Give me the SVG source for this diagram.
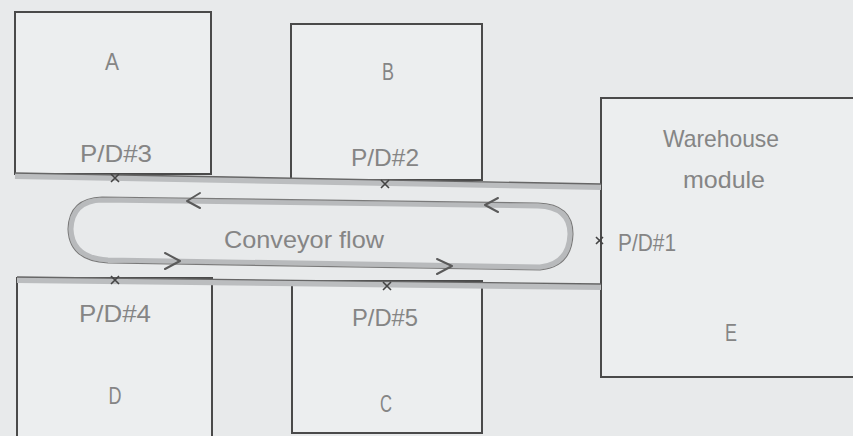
<svg xmlns="http://www.w3.org/2000/svg" width="853" height="436" viewBox="0 0 853 436">
<style>
.bg{fill:#e8eaeb}
.box{fill:#eceeef;stroke:#4a4a4a;stroke-width:2}
.lbl{font-family:"Liberation Sans",Arial,sans-serif;font-size:24px;fill:#858585;text-anchor:middle}
.wall{stroke:#bbbdbf;stroke-width:6;fill:none}
.walledge{stroke:#666;stroke-width:1.3;fill:none}
.loop{fill:none;stroke:#b8babc;stroke-width:5}
.loopedge{fill:none;stroke:#7a7a7a;stroke-width:1.1}
.arr{fill:none;stroke:#5a5a5a;stroke-width:2;stroke-linecap:round;stroke-linejoin:round}
.pd{stroke:#444;stroke-width:1.6;fill:none}
</style>
<rect class="bg" x="0" y="0" width="853" height="436"/>
<g id="A">
<rect class="box" x="15" y="12" width="196" height="162"/>
<text class="lbl" x="112" y="70" textLength="14" lengthAdjust="spacingAndGlyphs">A</text>
<text class="lbl" x="116" y="162" textLength="72" lengthAdjust="spacingAndGlyphs">P/D#3</text>
</g>
<g id="B">
<rect class="box" x="291" y="24" width="191" height="156"/>
<text class="lbl" x="388" y="80" textLength="12" lengthAdjust="spacingAndGlyphs">B</text>
<text class="lbl" x="385" y="166" textLength="68" lengthAdjust="spacingAndGlyphs">P/D#2</text>
</g>
<g id="E">
<rect class="box" x="601" y="98" width="262" height="279"/>
<text class="lbl" x="721" y="147" textLength="116" lengthAdjust="spacingAndGlyphs">Warehouse</text>
<text class="lbl" x="724" y="188" textLength="82" lengthAdjust="spacingAndGlyphs">module</text>
<text class="lbl" x="647" y="251" textLength="58" lengthAdjust="spacingAndGlyphs">P/D#1</text>
<text class="lbl" x="731" y="341" textLength="12" lengthAdjust="spacingAndGlyphs">E</text>
</g>
<g id="D">
<rect class="box" x="17" y="278" width="195" height="170"/>
<text class="lbl" x="115" y="322" textLength="72" lengthAdjust="spacingAndGlyphs">P/D#4</text>
<text class="lbl" x="115" y="404" textLength="13" lengthAdjust="spacingAndGlyphs">D</text>
</g>
<g id="C">
<rect class="box" x="292" y="281" width="190" height="152"/>
<text class="lbl" x="385" y="326" textLength="66" lengthAdjust="spacingAndGlyphs">P/D#5</text>
<text class="lbl" x="386" y="412" textLength="12" lengthAdjust="spacingAndGlyphs">C</text>
</g>
<g id="connectors">
<path class="wall" d="M15,176 L601,187"/>
<path class="walledge" d="M15,173 L601,184"/>
<path class="wall" d="M17,280 L601,287"/>
<path class="walledge" d="M17,277 L601,284"/>
<path class="loop" d="M102,200 L538,206 Q570,207 570,234 Q569,264 540,267 L108,260 Q72,258 71,229 Q72,201 102,200 Z"/>
<path class="loopedge" d="M102,197 L538,203 Q573,204 573,234 Q572,267 540,270 L108,263 Q69,261 68,229 Q69,198 102,197 Z"/>
<path class="arr" d="M200,193 L187,201 L200,208"/>
<path class="arr" d="M498,198 L485,205 L498,212"/>
<path class="arr" d="M165,253 L180,261 L165,269"/>
<path class="arr" d="M437,259 L452,266 L437,274"/>
<path class="pd" d="M111,174 L119,182 M119,174 L111,182"/>
<path class="pd" d="M381,180 L389,188 M389,180 L381,188"/>
<path class="pd" d="M111,276 L119,284 M119,276 L111,284"/>
<path class="pd" d="M383,282 L391,290 M391,282 L383,290"/>
<path class="pd" d="M596,237 L603,244 M603,237 L596,244"/>
</g>
<text class="lbl" x="304" y="248" textLength="160" lengthAdjust="spacingAndGlyphs">Conveyor flow</text>
</svg>
